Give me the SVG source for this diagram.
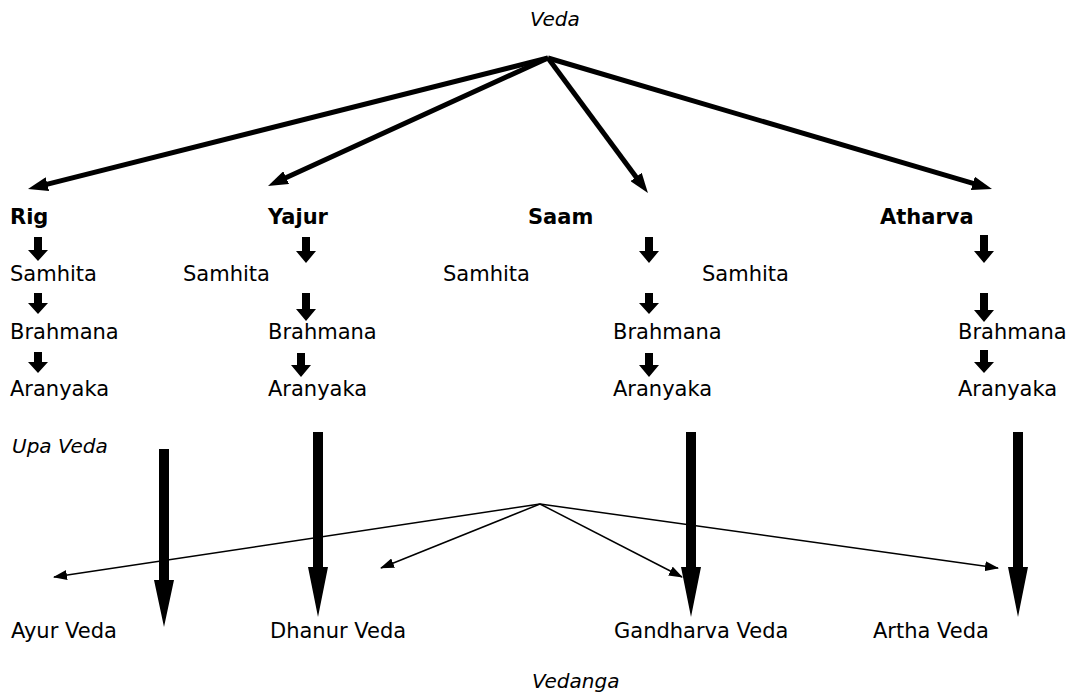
<svg xmlns="http://www.w3.org/2000/svg" width="1072" height="695" viewBox="0 0 1072 695">
<style>
text{font-family:"DejaVu Sans",Verdana,sans-serif;font-size:21px;fill:#000}
.b{font-weight:bold}
.i{font-style:italic;font-size:20px}
.thick{stroke:#000;stroke-width:5;fill:none;marker-end:url(#hb)}
.thin{stroke:#000;stroke-width:1.5;fill:none;marker-end:url(#hs)}
.blk{fill:#000}
</style>
<defs>
<marker id="hb" markerUnits="userSpaceOnUse" markerWidth="20" markerHeight="14" viewBox="0 0 20 14" refX="10" refY="7" orient="auto"><path d="M0,0 L20,7 L0,14 z" fill="#000"/></marker>
<marker id="hs" markerUnits="userSpaceOnUse" markerWidth="14" markerHeight="10" viewBox="0 0 14 10" refX="13" refY="5" orient="auto"><path d="M0,0 L14,5 L0,10 z" fill="#000"/></marker>
</defs>
<rect width="1072" height="695" fill="#fff"/>
<g id="connectors">
<line class="thick" x1="548" y1="58" x2="37.7" y2="186.6"/>
<line class="thick" x1="548" y1="58" x2="277.1" y2="181.8"/>
<line class="thick" x1="548" y1="58" x2="642" y2="185"/>
<line class="thick" x1="548" y1="58" x2="982.4" y2="186.2"/>
<line class="thin" x1="540" y1="504" x2="54" y2="577"/>
<line class="thin" x1="540" y1="504" x2="381" y2="568"/>
<line class="thin" x1="540" y1="504" x2="682" y2="577"/>
<line class="thin" x1="540" y1="504" x2="998" y2="568"/>
<g class="blk">
<polygon points="34,237 42,237 42,250 48,250 38,261 28,250 34,250"/>
<polygon points="34,293 42,293 42,303 48,303 38,314 28,303 34,303"/>
<polygon points="34,352 42,352 42,362 48,362 38,373 28,362 34,362"/>
<polygon points="302,237 310,237 310,251 316,251 306,263 296,251 302,251"/>
<polygon points="302,293 310,293 310,309 316,309 306,321 296,309 302,309"/>
<polygon points="297,353 305,353 305,365 311,365 301,377 291,365 297,365"/>
<polygon points="645,237 653,237 653,251 659,251 649,263 639,251 645,251"/>
<polygon points="645,293 653,293 653,303 659,303 649,314 639,303 645,303"/>
<polygon points="645,353 653,353 653,365 659,365 649,377 639,365 645,365"/>
<polygon points="980,235 988,235 988,251 994,251 984,263 974,251 980,251"/>
<polygon points="980,293 988,293 988,310 994,310 984,322 974,310 980,310"/>
<polygon points="980,350 988,350 988,362 994,362 984,373 974,362 980,362"/>
<polygon points="159,449 169,449 169,580 174,580 164,627 154,580 159,580"/>
<polygon points="313,432 323,432 323,567 328,567 318,617 308,567 313,567"/>
<polygon points="686,432 696,432 696,567 701,567 691,617 681,567 686,567"/>
<polygon points="1013,432 1023,432 1023,567 1028,567 1018,617 1008,567 1013,567"/>
</g>
</g>
<g id="veda"><text class="i" x="530" y="26">Veda</text></g>
<g id="rig"><text class="b" x="10" y="224">Rig</text></g>
<g id="yajur"><text class="b" x="268" y="224">Yajur</text></g>
<g id="saam"><text class="b" x="528" y="224">Saam</text></g>
<g id="atharva"><text class="b" x="880" y="224">Atharva</text></g>
<g id="rig-samhita"><text x="10" y="281">Samhita</text></g>
<g id="yajur-samhita"><text x="183" y="281">Samhita</text></g>
<g id="saam-samhita"><text x="443" y="281">Samhita</text></g>
<g id="atharva-samhita"><text x="702" y="281">Samhita</text></g>
<g id="rig-brahmana"><text x="10" y="339">Brahmana</text></g>
<g id="yajur-brahmana"><text x="268" y="339">Brahmana</text></g>
<g id="saam-brahmana"><text x="613" y="339">Brahmana</text></g>
<g id="atharva-brahmana"><text x="958" y="339">Brahmana</text></g>
<g id="rig-aranyaka"><text x="10" y="396">Aranyaka</text></g>
<g id="yajur-aranyaka"><text x="268" y="396">Aranyaka</text></g>
<g id="saam-aranyaka"><text x="613" y="396">Aranyaka</text></g>
<g id="atharva-aranyaka"><text x="958" y="396">Aranyaka</text></g>
<g id="upaveda"><text class="i" x="12" y="453">Upa Veda</text></g>
<g id="ayurveda"><text x="11" y="638">Ayur Veda</text></g>
<g id="dhanurveda"><text x="270" y="638">Dhanur Veda</text></g>
<g id="gandharvaveda"><text x="614" y="638">Gandharva Veda</text></g>
<g id="arthaveda"><text x="873" y="638">Artha Veda</text></g>
<g id="vedanga"><text class="i" x="532" y="688">Vedanga</text></g>
</svg>
